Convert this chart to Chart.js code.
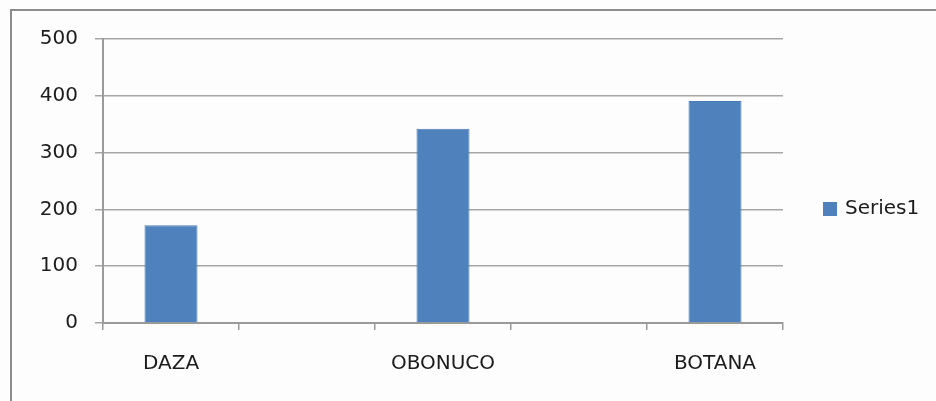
<!DOCTYPE html>
<html>
<head>
<meta charset="utf-8">
<script src="https://cdn.jsdelivr.net/npm/chart.js@4/dist/chart.umd.min.js"></script>
<style>
  html, body { margin: 0; padding: 0; background: #fdfdfd; overflow: hidden; }
  #wrap { width: 936px; height: 401px; position: relative; }
  canvas { display: block; }
</style>
</head>
<body>
<div id="wrap"><canvas id="c" width="936" height="401"></canvas></div>
<script>
// Sites along the x axis; the blank slots keep the wide spacing between sites
const categories = ['DAZA', '', 'OBONUCO', '', 'BOTANA'];
const series1 = [172, null, 342, null, 391];
const seriesName = 'Series1';
const yTicks = [0, 100, 200, 300, 400, 500];

const BAR = '#4f81bd';
const GRID = '#a6a6a6';
const AXIS = '#9a9a9a';
const TEXT = '#1c1c1c';
const FONT = { family: 'DejaVu Sans', size: 20 };

// Frame around the chart (top and left edges) and the legend at the right
const framePlugin = {
  id: 'frameAndLegend',
  beforeDraw(chart) {
    const ctx = chart.ctx;
    ctx.save();
    ctx.fillStyle = '#fdfdfd';
    ctx.fillRect(0, 0, chart.width, chart.height);
    ctx.fillStyle = '#8c8c8c';
    ctx.fillRect(10, 9, chart.width - 10, 2);
    ctx.fillRect(10, 9, 2, chart.height - 9);
    ctx.restore();
  },
  afterDraw(chart) {
    const ctx = chart.ctx;
    const ds = chart.data.datasets[0];
    const cy = 209;
    ctx.save();
    ctx.fillStyle = ds.backgroundColor;
    ctx.fillRect(823, cy - 7, 14, 14);
    ctx.fillStyle = TEXT;
    ctx.font = FONT.size + 'px ' + FONT.family;
    ctx.textBaseline = 'middle';
    ctx.textAlign = 'left';
    ctx.fillText(ds.label, 845, cy);
    ctx.restore();
  }
};

new Chart(document.getElementById('c'), {
  type: 'bar',
  data: {
    labels: categories,
    datasets: [{
      label: seriesName,
      data: series1,
      backgroundColor: BAR,
      borderColor: '#4a7bb7',
      borderWidth: 1,
      categoryPercentage: 1,
      barPercentage: 0.39,
      skipNull: false
    }]
  },
  options: {
    responsive: false,
    animation: false,
    devicePixelRatio: 1,
    layout: { padding: { top: 39, right: 153, bottom: 0, left: 0 } },
    plugins: {
      legend: { display: false },
      tooltip: { enabled: false }
    },
    scales: {
      x: {
        offset: true,
        grid: {
          offset: true,
          drawOnChartArea: false,
          drawTicks: true,
          tickLength: 7,
          color: AXIS,
          lineWidth: 1.5
        },
        border: { color: AXIS, width: 2 },
        ticks: {
          color: TEXT,
          font: FONT,
          padding: 22,
          maxRotation: 0,
          autoSkip: false
        },
        afterFit(scale) { scale.height = 78; }
      },
      y: {
        min: 0,
        max: 500,
        afterBuildTicks(scale) { scale.ticks = yTicks.map(v => ({ value: v })); },
        grid: {
          color: GRID,
          lineWidth: 1.5,
          tickLength: 8,
          drawTicks: true
        },
        border: { color: AXIS, width: 2 },
        ticks: {
          color: TEXT,
          font: FONT,
          padding: 17
        },
        afterFit(scale) { scale.width = 103; }
      }
    }
  },
  plugins: [framePlugin]
});
</script>
</body>
</html>
